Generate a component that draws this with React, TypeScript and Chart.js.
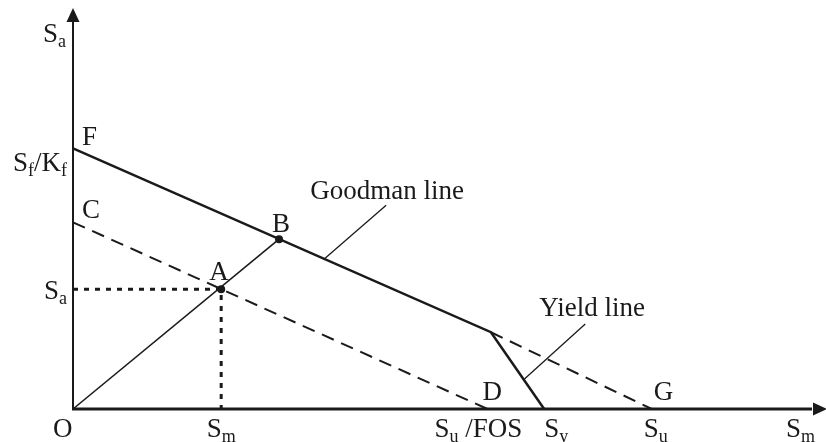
import React, { useEffect, useRef } from "react";
import { Chart, registerables } from "chart.js";

Chart.register(...registerables);

// ---- Values (stress units, ultimate strength Su = 100) ----
const xMax = 129.4;
const yMax = 68.6;

const goodmanSolidX = [0, 72.2, 81.4];
const goodmanSolidY = [44.8, 13.2, 0];
const goodmanDashX = [72.2, 100];
const goodmanDashY = [13.2, 0];
const safeLineX = [0, 71.6];
const safeLineY = [32.1, 0];
const loadLineX = [0, 35.6];
const loadLineY = [0, 29.2];
const dottedX = [0, 25.6, 25.6];
const dottedY = [20.6, 20.6, 0];
const markerX = [25.6, 35.6];
const markerY = [20.6, 29.2];
const goodmanLeaderX = [54.1, 43.3];
const goodmanLeaderY = [35.05, 25.7];
const yieldLeaderX = [88.5, 77.8];
const yieldLeaderY = [14.6, 5.0];

// ---- Labels: text parts ([text, subscript]) anchored at data values ----
type Part = [string, boolean];
const labelTexts: Part[][] = [
  [["S", false], ["a", true]],
  [["F", false]],
  [["S", false], ["f", true], ["/K", false], ["f", true]],
  [["C", false]],
  [["A", false]],
  [["B", false]],
  [["S", false], ["a", true]],
  [["O", false]],
  [["S", false], ["m", true]],
  [["D", false]],
  [["S", false], ["u", true], [" /FOS", false]],
  [["S", false], ["y", true]],
  [["G", false]],
  [["S", false], ["u", true]],
  [["S", false], ["m", true]],
  [["Goodman line", false]],
  [["Yield line", false]],
];
const labelAnchorX = [0, 0, 0, 0, 25.6, 35.6, 0, 0, 25.6, 71.6, 71.6, 81.4, 100, 100, xMax, 54.1, 88.5];
const labelAnchorY = [yMax, 44.8, 44.8, 32.1, 20.6, 29.2, 20.6, 0, 0, 0, 0, 0, 0, 0, 0, 35.05, 14.6];

// layout (pixel offsets from anchors, alignment)
const labelDx = [-30, 9, -6, 9, -12, -7, -6, -20, 0, -5, -9, 0, 2, -8, -36, -76, -46];
const labelDy = [32, -3, 23, -4, -9, -7, 10, 28, 28, -9, 28, 28, -9, 28, 28, -6, -8];
const labelAlign = ["left", "left", "right", "left", "left", "left", "right", "left", "center", "left", "center", "left", "left", "left", "left", "left", "left"];

const MAIN_FONT = '27px "Liberation Serif", "DejaVu Serif", serif';
const SUB_FONT = '18px "Liberation Serif", "DejaVu Serif", serif';

function richWidth(ctx: CanvasRenderingContext2D, parts: Part[]) {
  let w = 0;
  for (const [t, sub] of parts) {
    ctx.font = sub ? SUB_FONT : MAIN_FONT;
    w += ctx.measureText(t).width;
  }
  return w;
}

function drawRich(ctx: CanvasRenderingContext2D, parts: Part[], x: number, y: number, align: string) {
  const w = richWidth(ctx, parts);
  let cx = x;
  if (align === "right") cx = x - w;
  else if (align === "center") cx = x - w / 2;
  ctx.textBaseline = "alphabetic";
  ctx.textAlign = "left";
  for (const [t, sub] of parts) {
    ctx.font = sub ? SUB_FONT : MAIN_FONT;
    ctx.fillText(t, cx, sub ? y + 5 : y);
    cx += ctx.measureText(t).width;
  }
}

const diagramPlugin = {
  id: "diagram",
  afterDatasetsDraw(chart: any) {
    const ctx: CanvasRenderingContext2D = chart.ctx;
    const xs = chart.scales.x;
    const ys = chart.scales.y;
    const x0 = xs.getPixelForValue(0);
    const y0 = ys.getPixelForValue(0);
    const xEnd = xs.getPixelForValue(xMax);
    const yEnd = ys.getPixelForValue(yMax);
    ctx.save();
    ctx.strokeStyle = "#1a1a1a";
    ctx.fillStyle = "#1a1a1a";
    // y axis
    ctx.lineWidth = 2;
    ctx.beginPath();
    ctx.moveTo(x0, y0 + 1);
    ctx.lineTo(x0, yEnd + 10);
    ctx.stroke();
    ctx.beginPath();
    ctx.moveTo(x0, yEnd - 2);
    ctx.lineTo(x0 - 6.5, yEnd + 12);
    ctx.lineTo(x0 + 6.5, yEnd + 12);
    ctx.closePath();
    ctx.fill();
    // x axis
    ctx.lineWidth = 3;
    ctx.beginPath();
    ctx.moveTo(x0 - 1, y0);
    ctx.lineTo(xEnd - 10, y0);
    ctx.stroke();
    ctx.beginPath();
    ctx.moveTo(xEnd + 5, y0);
    ctx.lineTo(xEnd - 9, y0 - 6.5);
    ctx.lineTo(xEnd - 9, y0 + 6.5);
    ctx.closePath();
    ctx.fill();
    // labels
    for (let i = 0; i < labelTexts.length; i++) {
      const px = xs.getPixelForValue(labelAnchorX[i]) + labelDx[i];
      const py = ys.getPixelForValue(labelAnchorY[i]) + labelDy[i];
      drawRich(ctx, labelTexts[i], px, py, labelAlign[i]);
    }
    ctx.restore();
  },
};

function pts(xs: number[], ys: number[]) {
  return xs.map((x, i) => ({ x, y: ys[i] }));
}

export default function App() {
  const ref = useRef<HTMLCanvasElement | null>(null);
  useEffect(() => {
    document.body.style.margin = "0";
    const canvas = ref.current!;
    const line = (data: any, width: number, dash: number[] = []) => ({
      data,
      showLine: true,
      borderColor: "#1a1a1a",
      backgroundColor: "#1a1a1a",
      borderWidth: width,
      borderDash: dash,
      pointRadius: 0,
      tension: 0,
      clip: false,
      borderCapStyle: "butt",
      borderJoinStyle: "miter",
    });
    const chart = new Chart(canvas, {
      type: "scatter",
      data: {
        datasets: [
          {
            data: pts(markerX, markerY),
            pointRadius: 4,
            pointBackgroundColor: "#1a1a1a",
            pointBorderWidth: 0,
            showLine: false,
            clip: false,
          } as any,
          line(pts(goodmanSolidX, goodmanSolidY), 2.5),
          line(pts(goodmanDashX, goodmanDashY), 2, [13, 8]),
          line(pts(safeLineX, safeLineY), 2, [13, 8]),
          line(pts(loadLineX, loadLineY), 1.6),
          line(pts(dottedX, dottedY), 3, [5, 6]),
          line(pts(goodmanLeaderX, goodmanLeaderY), 1.3),
          line(pts(yieldLeaderX, yieldLeaderY), 1.3),
        ],
      },
      options: {
        animation: false,
        responsive: false,
        maintainAspectRatio: false,
        layout: { padding: { left: 73, right: 0, top: 10, bottom: 33 } },
        plugins: { legend: { display: false }, tooltip: { enabled: false } },
        scales: {
          x: { type: "linear", min: 0, max: xMax, display: false },
          y: { type: "linear", min: 0, max: yMax, display: false },
        },
      },
      plugins: [diagramPlugin],
    });
    return () => chart.destroy();
  }, []);
  return (
    <div style={{ width: 826, height: 442, background: "#fff" }}>
      <canvas ref={ref} width={826} height={442} style={{ display: "block" }} />
    </div>
  );
}
